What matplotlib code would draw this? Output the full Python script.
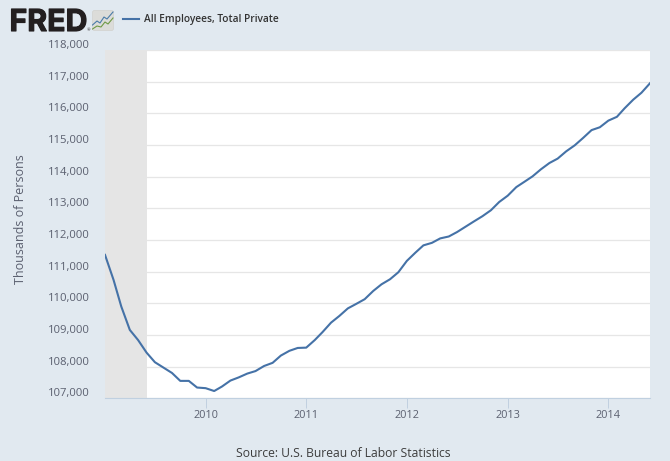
import matplotlib

matplotlib.use("Agg")
import matplotlib.dates as mdates
import matplotlib.pyplot as plt
import matplotlib.patheffects as pe
import pandas as pd
from matplotlib.patches import FancyBboxPatch
from matplotlib.ticker import FuncFormatter
from matplotlib.transforms import ScaledTranslation

W, H = 670, 461
BG = "#e1e9f0"
LINE = "#4572a7"
TEXT = "#5b6070"
DARK = "#3d3d3d"

months = pd.date_range("2009-01-01", "2014-06-01", freq="MS")
employees = [
    111530, 110740, 109900, 109160, 108840, 108440, 108140, 107970, 107800, 107550, 107550, 107340,
    107320, 107230, 107370, 107560, 107660, 107780, 107860, 108020, 108120, 108350, 108500, 108590,
    108600, 108840, 109090, 109390, 109600, 109840, 109980, 110130, 110390, 110600, 110760, 110980,
    111340, 111600, 111830, 111910, 112050, 112110, 112250, 112420, 112590, 112750, 112940, 113200,
    113400, 113670, 113830, 114010, 114230, 114430, 114570, 114800, 114990, 115220, 115470, 115560,
    115770, 115890, 116160, 116430, 116650, 116950,
]
y_ticks = [107000, 108000, 109000, 110000, 111000, 112000, 113000, 114000, 115000, 116000, 117000, 118000]
x_ticks = pd.to_datetime(["2010-01-01", "2011-01-01", "2012-01-01", "2013-01-01", "2014-01-01"])
recession_start = pd.Timestamp("2009-01-01")
recession_end = pd.Timestamp("2009-06-01")

plt.rcParams["font.family"] = ["Open Sans", "DejaVu Sans"]

fig = plt.figure(figsize=(W / 100, H / 100), dpi=100, facecolor=BG)
ax = fig.add_axes([105 / W, 1 - 398.3 / H, 545 / W, 348.3 / H], facecolor="white")

ax.grid(axis="y", color="#e6e6e6", linewidth=0.9, zorder=1)
ax.set_axisbelow(True)
ax.axvspan(recession_start, recession_end, color="#e5e5e5", linewidth=0, zorder=2)
ax.plot(months, employees, color=LINE, linewidth=1.5, zorder=3, clip_on=True)

ax.set_xlim(months[0], months[-1])
ax.set_ylim(107000, 118000)
ax.set_yticks(y_ticks)
ax.set_xticks(x_ticks)
ax.xaxis.set_major_formatter(mdates.DateFormatter("%Y"))
ax.yaxis.set_major_formatter(FuncFormatter(lambda v, pos: f"{v:,.0f}"))

for side in ["top", "left", "right"]:
    ax.spines[side].set_visible(False)
ax.spines["bottom"].set_color("#c0d0e0")
ax.spines["bottom"].set_linewidth(0.8)

ax.tick_params(axis="y", length=0, pad=10.8, labelsize=8.1, labelcolor=TEXT)
ax.tick_params(axis="x", length=7, width=0.7, color="#c0d0e0", pad=1.5, labelsize=7.8, labelcolor=TEXT)

# y labels sit a little above their gridlines
shift = ScaledTranslation(0, 6 / 100, fig.dpi_scale_trans)
for label in ax.get_yticklabels():
    label.set_transform(label.get_transform() + shift)

fig.text(20.5 / W, 1 - 219 / H, "Thousands of Persons", rotation=90, ha="center", va="center", fontsize=9, color=TEXT)
fig.text(343.5 / W, 1 - 453 / H, "Source: U.S. Bureau of Labor Statistics", ha="center", va="center", fontsize=8.7, color=DARK)

# logo
fig.text(
    9.5 / W, 1 - 31 / H, "FRED", ha="left", va="baseline", fontsize=21.8, fontweight="bold", family="Inter",
    color="#231f20", path_effects=[pe.withStroke(linewidth=0.8, foreground="#231f20")],
)
fig.text(87 / W, 1 - 31 / H, "®", ha="left", va="baseline", fontsize=3, color="#231f20")
icon = fig.add_axes([92 / W, 1 - 31 / H, 22 / W, 21 / H])
icon.set_xlim(0, 22)
icon.set_ylim(0, 21)
icon.axis("off")
icon.add_patch(FancyBboxPatch((0.5, 0.5), 21, 20, boxstyle="round,pad=0,rounding_size=2", facecolor="#dcdcd9", edgecolor="#d2d2ce", linewidth=0.5))
icon.plot([0.5, 5, 8, 12, 15, 21], [6, 10, 8, 14, 12, 19], color="#4a7ba8", linewidth=0.8)
icon.plot([0.5, 5, 9, 13, 16, 21], [2, 5, 4, 9, 7, 13], color="#6f9a45", linewidth=0.8)

# legend
fig.add_artist(plt.Line2D([123 / W, 139 / W], [1 - 19.5 / H, 1 - 19.5 / H], color=LINE, linewidth=1.5))
fig.text(
    144 / W, 1 - 19.5 / H, "All Employees, Total Private", ha="left", va="center", fontsize=7.3,
    fontweight="semibold", color="#333333",
)

fig.savefig("out.png", dpi=100, facecolor=BG)
